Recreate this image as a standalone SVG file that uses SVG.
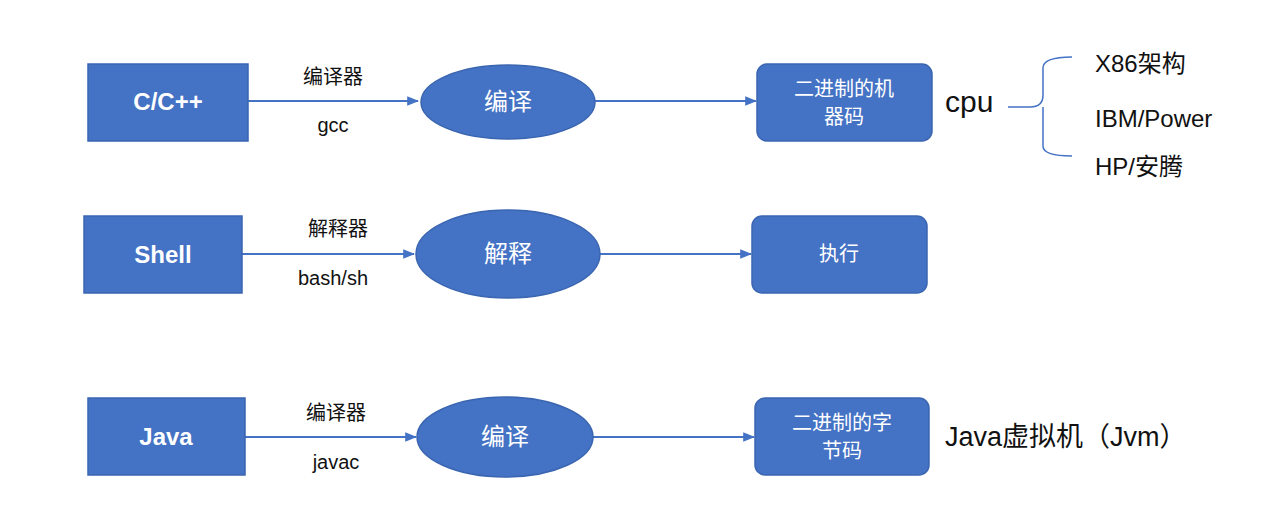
<svg xmlns="http://www.w3.org/2000/svg" width="1285" height="508" viewBox="0 0 1285 508">
<defs>
<style>
.n{fill:#4472C4;stroke:#3A65B0;stroke-width:1.5}
.w{fill:#fff;font-family:"Liberation Sans","Noto Sans CJK SC",sans-serif;text-anchor:middle}
.b{font-weight:bold;font-size:24px}
.k{fill:#111;font-family:"Liberation Sans","Noto Sans CJK SC",sans-serif}
.l{font-size:20px;text-anchor:middle}
.c{stroke:#4472C4;stroke-width:2;fill:none}
</style>
<marker id="a" viewBox="0 0 10 10" refX="9" refY="5" markerWidth="6" markerHeight="6" orient="auto"><path d="M0,1 L10,5 L0,9 z" fill="#4472C4"/></marker>
</defs>
<rect width="1285" height="508" fill="#fff"/>
<g id="connectors">
<line class="c" x1="248" y1="101" x2="418" y2="101" marker-end="url(#a)"/>
<line class="c" x1="595" y1="101" x2="756" y2="101" marker-end="url(#a)"/>
<line class="c" x1="242" y1="254" x2="414" y2="254" marker-end="url(#a)"/>
<line class="c" x1="600" y1="254" x2="751" y2="254" marker-end="url(#a)"/>
<line class="c" x1="245" y1="437" x2="416" y2="437" marker-end="url(#a)"/>
<line class="c" x1="593" y1="437" x2="754" y2="437" marker-end="url(#a)"/>
<path class="c" style="stroke-width:1.5" d="M1008,107 L1030,107 Q1043,107 1043,95 L1043,68 Q1043,57 1072,57 M1043,107 L1043,146 Q1043,156 1072,156"/>
</g>
<g class="k l">
<text x="333" y="84">编译器</text><text x="333" y="132">gcc</text>
<text x="338" y="236">解释器</text><text x="333" y="285">bash/sh</text>
<text x="336" y="420">编译器</text><text x="336" y="469">javac</text>
</g>
<g id="n1"><rect class="n" x="88" y="64" width="160" height="77"/><text class="w b" x="168" y="110">C/C++</text></g>
<g id="n2"><rect class="n" x="84" y="216" width="158" height="77"/><text class="w b" x="163" y="263">Shell</text></g>
<g id="n3"><rect class="n" x="88" y="398" width="157" height="77"/><text class="w b" x="166" y="445">Java</text></g>
<g id="e1"><ellipse class="n" cx="508" cy="102" rx="87" ry="37"/><text class="w" font-size="24" x="508" y="110">编译</text></g>
<g id="e2"><ellipse class="n" cx="508" cy="254" rx="92" ry="44"/><text class="w" font-size="24" x="508" y="262">解释</text></g>
<g id="e3"><ellipse class="n" cx="505" cy="437" rx="88" ry="40"/><text class="w" font-size="24" x="505" y="445">编译</text></g>
<g id="r1"><rect class="n" x="757" y="64" width="175" height="77" rx="10"/><text class="w" font-size="20" x="844" y="96">二进制的机</text><text class="w" font-size="20" x="844" y="124">器码</text></g>
<g id="r2"><rect class="n" x="752" y="216" width="175" height="77" rx="10"/><text class="w" font-size="20" x="839" y="261">执行</text></g>
<g id="r3"><rect class="n" x="755" y="398" width="174" height="77" rx="10"/><text class="w" font-size="20" x="842" y="430">二进制的字</text><text class="w" font-size="20" x="842" y="458">节码</text></g>
<g id="cpu"><text class="k" font-size="30" x="945" y="112">cpu</text></g>
<g id="arch" class="k" font-size="24">
<text x="1095" y="72">X86架构</text>
<text x="1095" y="127">IBM/Power</text>
<text x="1095" y="175">HP/安腾</text>
</g>
<g id="jvm"><text class="k" font-size="27" x="945" y="446">Java虚拟机（Jvm）</text></g>
</svg>
